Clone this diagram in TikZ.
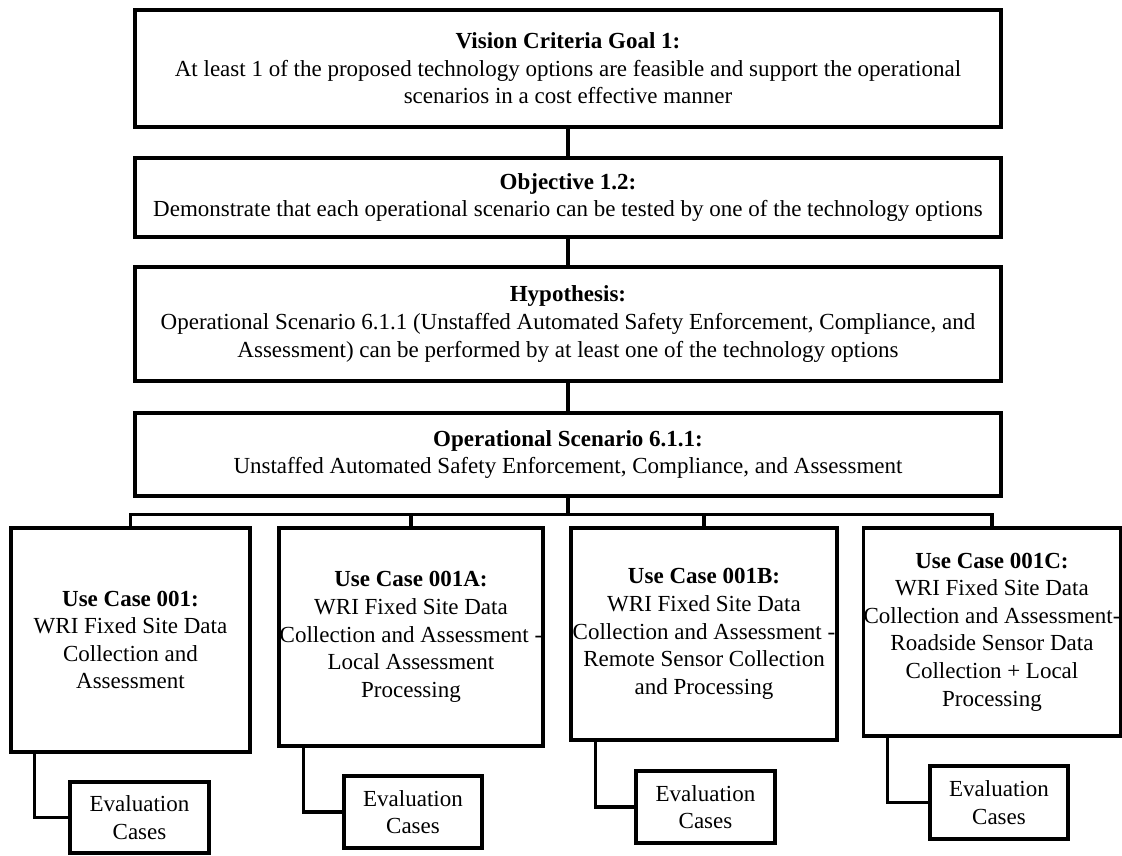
\documentclass[tikz,border=0pt]{standalone}
\usepackage{fontspec}
\setmainfont{Liberation Serif}
\begin{document}
\begin{tikzpicture}[x=1pt,y=-1pt,
  box/.style={draw=black,line width=3.1pt,rectangle,inner sep=0pt,align=center,
    font=\fontsize{23}{27.6}\selectfont},
  conn/.style={draw=black,line width=3.1pt}]
\useasboundingbox (0,0) rectangle (1122,855);
\node[box,minimum width=866pt,minimum height=117pt] (vision) at (568,68.5)
 {\textbf{Vision Criteria Goal 1:}\\At least 1 of the proposed technology options are feasible and support the operational\\scenarios in a cost effective manner};
\node[box,minimum width=866pt,minimum height=79pt] (obj) at (568,197.5)
 {\textbf{Objective 1.2:}\\Demonstrate that each operational scenario can be tested by one of the technology options};
\node[box,minimum width=866pt,minimum height=114pt] (hyp) at (568,324)
 {\textbf{Hypothesis:}\\Operational Scenario 6.1.1 (Unstaffed Automated Safety Enforcement, Compliance, and\\Assessment) can be performed by at least one of the technology options};
\node[box,minimum width=866pt,minimum height=83pt] (ops) at (568,454.5)
 {\textbf{Operational Scenario 6.1.1:}\\Unstaffed Automated Safety Enforcement, Compliance, and Assessment};
\node[box,minimum width=239pt,minimum height=224pt] (uc0) at (130.5,640)
 {\textbf{Use Case 001:}\\WRI Fixed Site Data\\Collection and\\Assessment};
\node[box,minimum width=264pt,minimum height=218pt] (ucA) at (411,637)
 {\textbf{Use Case 001A:}\\WRI Fixed Site Data\\Collection and Assessment -\\Local Assessment\\Processing};
\node[box,minimum width=266pt,minimum height=212pt] (ucB) at (704,634)
 {\textbf{Use Case 001B:}\\WRI Fixed Site Data\\Collection and Assessment -\\Remote Sensor Collection\\and Processing};
\node[box,minimum width=254pt,minimum height=208pt] (ucC) at (992,632)
 {\textbf{Use Case 001C:}\\WRI Fixed Site Data\\Collection and Assessment-\\Roadside Sensor Data\\Collection + Local\\Processing};
\node[box,minimum width=139pt,minimum height=71pt] (e0) at (139.5,817.5) {Evaluation\\Cases};
\node[box,minimum width=138pt,minimum height=72pt] (eA) at (413,812) {Evaluation\\Cases};
\node[box,minimum width=139pt,minimum height=72pt] (eB) at (705.5,807) {Evaluation\\Cases};
\node[box,minimum width=138pt,minimum height=73pt] (eC) at (999,802.5) {Evaluation\\Cases};
\draw[conn] (vision.south) -- (obj.north);
\draw[conn] (obj.south) -- (hyp.north);
\draw[conn] (hyp.south) -- (ops.north);
\draw[conn] (ops.south) -- ++(0,17) coordinate (bus);
\draw[conn] (uc0.north) |- (bus) -| (ucC.north);
\draw[conn] (ucA.north) -- (ucA.north |- bus);
\draw[conn] (ucB.north) -- (ucB.north |- bus);
\draw[conn] ([xshift=25pt]uc0.south west) |- (e0.west);
\draw[conn] ([xshift=26pt]ucA.south west) |- (eA.west);
\draw[conn] ([xshift=26pt]ucB.south west) |- (eB.west);
\draw[conn] ([xshift=25pt]ucC.south west) |- (eC.west);
\end{tikzpicture}
\end{document}
